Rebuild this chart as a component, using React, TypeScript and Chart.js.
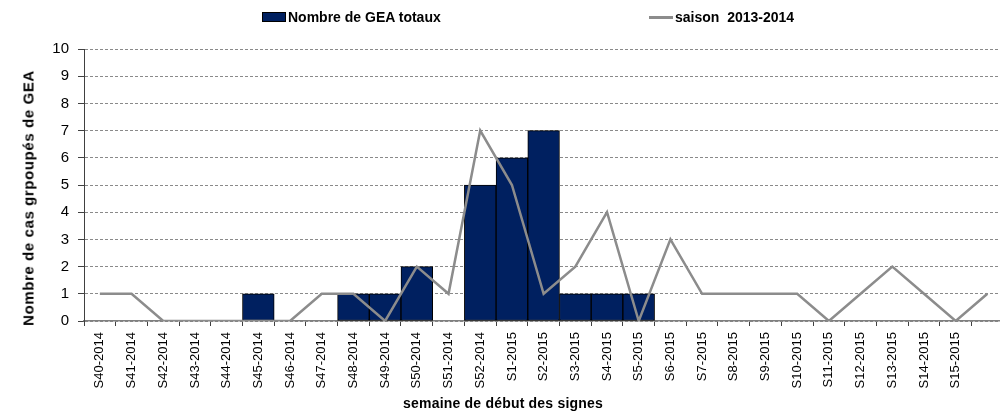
import React, { useEffect, useRef } from "react";
import { Chart, registerables } from "chart.js";

Chart.register(...registerables);

const weeks = [
  "S40-2014", "S41-2014", "S42-2014", "S43-2014", "S44-2014", "S45-2014", "S46-2014",
  "S47-2014", "S48-2014", "S49-2014", "S50-2014", "S51-2014", "S52-2014",
  "S1-2015", "S2-2015", "S3-2015", "S4-2015", "S5-2015", "S6-2015", "S7-2015",
  "S8-2015", "S9-2015", "S10-2015", "S11-2015", "S12-2015", "S13-2015", "S14-2015",
  "S15-2015", "",
];

const geaTotaux: (number | null)[] = [
  null, null, null, null, null, 1, null, null, 1, 1, 2, null, 5,
  6, 7, 1, 1, 1, null, null, null, null, null, null, null, null, null, null,
  null,
];

const saison20132014 = [
  1, 1, 0, 0, 0, 0, 0, 1, 1, 0, 2, 1, 7,
  5, 1, 2, 4, 0, 3, 1, 1, 1, 1, 0, 1, 2, 1, 0,
  1,
];

const yTicks = [0, 1, 2, 3, 4, 5, 6, 7, 8, 9, 10];

const FONT = "'Liberation Sans', Arial, sans-serif";
const NAVY = "#002060";
const GREY_LINE = "#8c8c8c";

export default function App() {
  const ref = useRef<HTMLCanvasElement | null>(null);

  useEffect(() => {
    if (!ref.current) return;
    const chart = new Chart(ref.current, {
      type: "bar",
      data: {
        labels: weeks,
        datasets: [
          {
            type: "line",
            label: "saison  2013-2014",
            data: saison20132014,
            borderColor: GREY_LINE,
            borderWidth: 2.5,
            pointRadius: 0,
            tension: 0,
            fill: false,
            order: 1,
          } as any,
          {
            type: "bar",
            label: "Nombre de GEA totaux",
            data: geaTotaux,
            backgroundColor: NAVY,
            borderColor: "#000000",
            borderWidth: 1,
            borderSkipped: false,
            categoryPercentage: 1,
            barPercentage: 1,
            order: 2,
          },
        ],
      },
      options: {
        responsive: false,
        animation: false,
        layout: { padding: { top: 49, left: 0, right: 0, bottom: 0 } },
        plugins: {
          legend: { display: false },
          tooltip: { enabled: false },
        },
        scales: {
          x: {
            offset: true,
            grid: {
              offset: true,
              drawOnChartArea: false,
              tickLength: 5,
              tickColor: "#404040",
              tickWidth: 1,
            },
            border: { color: "#808080", width: 1.5 },
            ticks: {
              autoSkip: false,
              minRotation: 90,
              maxRotation: 90,
              padding: 6,
              color: "#000",
              font: { family: FONT, size: 13 },
            },
            afterFit: (s: any) => {
              s.height = 91;
            },
          },
          y: {
            min: 0,
            max: 10,
            afterBuildTicks: (s: any) => {
              s.ticks = yTicks.map((v) => ({ value: v }));
            },
            grid: {
              color: "#8a8a8a",
              lineWidth: 1,
              tickLength: 6,
              tickColor: "#404040",
              tickBorderDash: [],
            } as any,
            border: { color: "#404040", width: 1, dash: [3, 2] },
            ticks: {
              padding: 9,
              color: "#000",
              font: { family: FONT, size: 15 },
            },
            afterFit: (s: any) => {
              s.width = 84;
            },
          },
        },
      },
    });
    return () => chart.destroy();
  }, []);

  const legendStyle: React.CSSProperties = {
    position: "absolute",
    top: 9,
    display: "flex",
    alignItems: "center",
    fontFamily: FONT,
    fontWeight: "bold",
    fontSize: 14,
    color: "#000",
    whiteSpace: "pre",
  };

  return (
    <div style={{ position: "fixed", left: 0, top: 0, width: 1000, height: 412, background: "#fff", overflow: "hidden" }}>
      <canvas ref={ref} width={1009} height={412} style={{ display: "block" }} />
      <div style={{ ...legendStyle, left: 262 }}>
        <span style={{ display: "inline-block", width: 22, height: 8, background: NAVY, border: "1px solid #000", marginRight: 2 }} />
        <span>Nombre de GEA totaux</span>
      </div>
      <div style={{ ...legendStyle, left: 649 }}>
        <span style={{ display: "inline-block", width: 24, height: 3, background: GREY_LINE, marginRight: 2 }} />
        <span>saison  2013-2014</span>
      </div>
      <div
        style={{
          position: "absolute",
          left: 503,
          top: 403,
          transform: "translate(-50%, -50%)",
          fontFamily: FONT,
          fontWeight: "bold",
          fontSize: 14,
          color: "#000",
          whiteSpace: "nowrap",
          letterSpacing: 0.2,
        }}
      >
        semaine de début des signes
      </div>
      <div
        style={{
          position: "absolute",
          left: 28,
          top: 198,
          transform: "translate(-50%, -50%) rotate(-90deg)",
          fontFamily: FONT,
          fontWeight: "bold",
          fontSize: 15,
          color: "#000",
          whiteSpace: "nowrap",
          letterSpacing: 0.6,
        }}
      >
        Nombre de cas grpoupés de GEA
      </div>
    </div>
  );
}
